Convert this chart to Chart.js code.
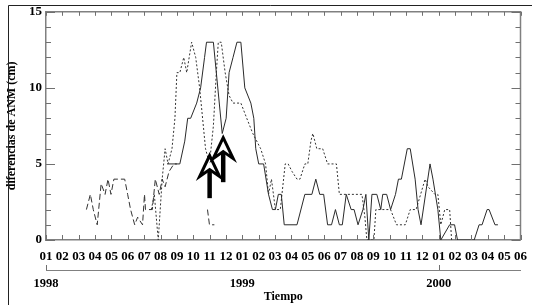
<!DOCTYPE html>
<html><head><meta charset="utf-8">
<script src="https://cdn.jsdelivr.net/npm/chart.js@4"></script>
<style>html,body{margin:0;padding:0;background:#fff;}#wrap{width:536px;height:305px;position:relative;}</style>
</head><body><div id="wrap"><canvas id="c" width="536" height="305"></canvas></div>
<script>
// ---- data (x in months since Jan 1998) ----
const monthLabels = ['01','02','03','04','05','06','07','08','09','10','11','12',
                     '01','02','03','04','05','06','07','08','09','10','11','12',
                     '01','02','03','04','05','06'];
const yearLabels = ['1998','1999','2000'];
const yearPositions = [0, 12, 24];
const yearTickPositions = [0, 24];

const solidX = [7.40,8.18,8.48,8.66,8.84,9.21,9.45,9.69,9.81,10.23,10.77,11.01,11.19,11.43,11.67,11.91,12.15,12.52,12.70,12.82,13.00,13.30,13.60,13.84,14.02,14.20,14.38,14.56,15.34,15.82,16.25,16.49,16.73,16.97,17.21,17.45,17.69,17.93,18.11,18.35,18.65,18.83,19.07,19.37,19.55,19.73,19.92,20.22,20.46,20.58,20.82,21.06,21.36,21.54,21.72,22.08,22.26,22.56,22.74,22.92,23.47,23.65,23.95,24.13,24.67,24.97,25.15,26.17,26.47,26.65,26.96,27.08,27.44,27.62];
const solidY = [5,5,6.5,8,8,9,10,12,13,13,7,8,11,12,13,13,10,9,8,6,5,5,3,2,2,3,3,1,1,3,3,4,3,3,1,1,2,1,1,3,2,2,1,2,3,0,3,3,2,3,3,2,3,4,4,6,6,4,2,1,5,4,2,0,1,1,0,0,1,1,2,2,1,1];

const dottedX = [6.44,6.62,6.86,7.10,7.28,7.46,7.70,7.88,8.00,8.18,8.42,8.60,8.90,9.15,9.39,9.57,9.75,9.99,10.23,10.41,10.53,10.71,10.95,11.19,11.43,11.91,12.09,12.27,12.64,13.12,13.42,13.60,13.78,13.90,14.02,14.32,14.62,14.80,15.04,15.34,15.52,15.82,16.00,16.19,16.31,16.55,16.91,17.21,17.75,17.93,19.31,19.49,19.61,20.04,20.16,21.06,21.42,21.96,22.26,22.62,23.17,23.35,23.77,23.95,24.13,24.37,24.67,24.79];
const dottedY = [2,3,0,4,6,5,6,8,11,11,12,11,13,12,10,8,6,5,7.5,11,13,13,11,9.5,9,9,8.5,8,7,6,5,3,4,3,2,2,5,5,4.5,4,4,5,5,6.5,7,6,6,5,5,3,3,1.5,0,0,2,2,1,1,2,2,4,3.5,3,3,1,2,2,0];

const dashedX = [2.47,2.71,2.89,3.13,3.37,3.61,3.79,3.97,4.15,4.51,4.81,4.99,5.17,5.42,5.60,5.90,6.02,6.08,6.50,6.68,6.92,7.10,7.28,7.52,7.82,8.00,null,9.87,9.99,10.29];
const dashedY = [2,3,2,1,3.7,3,4,3,4,4,4,3,2,1,1.5,1,3,2,2,4,3,4,3.5,4.5,5,5,null,2,1,1];

const arrowX = [10.0, 10.83];
const arrowTop = [5.55, 6.73];
const arrowBase = [2.75, 3.8];

const toPts = (xs, ys) => xs.map((x, i) => ({x: x === null ? NaN : x, y: ys[i]}));

const serif = '"Liberation Serif","Times New Roman",serif';

const decor = {
  id: 'decor',
  afterDraw(chart) {
    const {ctx, chartArea: a, scales: {x, y, x2}} = chart;
    ctx.save();
    // outer frame
    ctx.strokeStyle = '#222'; ctx.lineWidth = 1;
    ctx.beginPath(); ctx.moveTo(8.5, 305); ctx.lineTo(8.5, 5.5); ctx.lineTo(532, 5.5); ctx.stroke();
    // top and right plot borders
    ctx.strokeStyle = '#808080'; ctx.lineWidth = 1.5;
    ctx.beginPath(); ctx.moveTo(a.left, a.top); ctx.lineTo(a.right, a.top); ctx.lineTo(a.right, a.bottom); ctx.stroke();
    // month ticks
    ctx.lineWidth = 1; ctx.strokeStyle = '#707070';
    ctx.beginPath();
    x.ticks.forEach(t => {
      const px = Math.round(x.getPixelForValue(t.value)) + 0.5;
      ctx.moveTo(px, a.bottom); ctx.lineTo(px, a.bottom - 5);
      ctx.moveTo(px, a.top); ctx.lineTo(px, a.top + 4);
    });
    // y ticks (minor every unit)
    for (let v = y.min; v <= y.max; v += 1) {
      const py = Math.round(y.getPixelForValue(v)) + 0.5;
      const len = v % 5 === 0 ? 9 : 5;
      ctx.moveTo(a.left, py); ctx.lineTo(a.left + len, py);
      ctx.moveTo(a.right, py); ctx.lineTo(a.right - len, py);
    }
    // year ticks
    yearTickPositions.forEach(v => {
      const px = Math.round(x2.getPixelForValue(v)) + 0.5;
      ctx.moveTo(px, x2.top); ctx.lineTo(px, x2.top - 5);
    });
    ctx.stroke();
    // arrows
    arrowX.forEach((xv, i) => {
      const px = x.getPixelForValue(xv);
      const top = y.getPixelForValue(arrowTop[i]);
      const base = y.getPixelForValue(arrowBase[i]);
      const h = 21, w = 10, notch = 14;
      ctx.strokeStyle = '#000';
      ctx.lineWidth = 4.5; ctx.lineCap = 'butt';
      ctx.beginPath(); ctx.moveTo(px, base); ctx.lineTo(px, top + notch); ctx.stroke();
      ctx.lineWidth = 3; ctx.lineJoin = 'miter';
      ctx.beginPath();
      ctx.moveTo(px, top); ctx.lineTo(px + w, top + h); ctx.lineTo(px, top + notch);
      ctx.lineTo(px - w, top + h); ctx.closePath();
      ctx.fillStyle = '#fff'; ctx.fill(); ctx.stroke();
    });
    ctx.restore();
  }
};

new Chart(document.getElementById('c'), {
  type: 'line',
  data: {
    datasets: [
      {label: 'solid', data: toPts(solidX, solidY), borderColor: '#2a2a2a', borderWidth: 1, pointRadius: 0, tension: 0, spanGaps: false},
      {label: 'dotted', data: toPts(dottedX, dottedY), borderColor: '#333', borderWidth: 1, borderDash: [2, 2], pointRadius: 0, tension: 0},
      {label: 'dashed', data: toPts(dashedX, dashedY), borderColor: '#333', borderWidth: 1, borderDash: [6, 3], pointRadius: 0, tension: 0, spanGaps: false}
    ]
  },
  options: {
    responsive: false, animation: false, devicePixelRatio: 1,
    layout: {padding: {top: 10, right: 6, left: 0, bottom: 0}},
    plugins: {legend: {display: false}, tooltip: {enabled: false}},
    scales: {
      x: {
        type: 'linear', position: 'bottom', min: 0, max: 29,
        afterBuildTicks: s => { s.ticks = monthLabels.map((_, i) => ({value: i})); },
        afterFit: s => { s.height = 30; },
        grid: {display: false, drawTicks: false},
        border: {display: true, color: '#808080', width: 1.5},
        ticks: {autoSkip: false, maxRotation: 0, minRotation: 0, padding: 9, color: '#000',
                font: {family: serif, size: 13, weight: 'bold'},
                callback: v => monthLabels[v]}
      },
      x2: {
        type: 'linear', position: 'bottom', min: 0, max: 29,
        afterBuildTicks: s => { s.ticks = yearPositions.map(v => ({value: v})); },
        afterFit: s => { s.height = 35; },
        grid: {display: false, drawTicks: false},
        border: {display: true, color: '#808080', width: 1},
        ticks: {autoSkip: false, maxRotation: 0, minRotation: 0, padding: 6, color: '#000',
                font: {family: serif, size: 12.5, weight: 'bold'},
                callback: v => yearLabels[yearPositions.indexOf(v)]},
        title: {display: true, text: 'Tiempo', color: '#000', padding: {top: 0, bottom: 1},
                font: {family: serif, size: 12, weight: 'bold'}}
      },
      y: {
        min: 0, max: 15,
        afterBuildTicks: s => { s.ticks = [0, 5, 10, 15].map(v => ({value: v})); },
        afterFit: s => { s.width = 46; },
        grid: {display: false, drawTicks: false},
        border: {display: true, color: '#808080', width: 1.5},
        ticks: {padding: 4, color: '#000', font: {family: serif, size: 13, weight: 'bold'}},
        title: {display: true, text: 'diferencias de ANM (cm)', color: '#000', padding: {top: 5, bottom: 0},
                font: {family: serif, size: 12, weight: 'bold'}}
      }
    }
  },
  plugins: [decor]
});
</script></body></html>
